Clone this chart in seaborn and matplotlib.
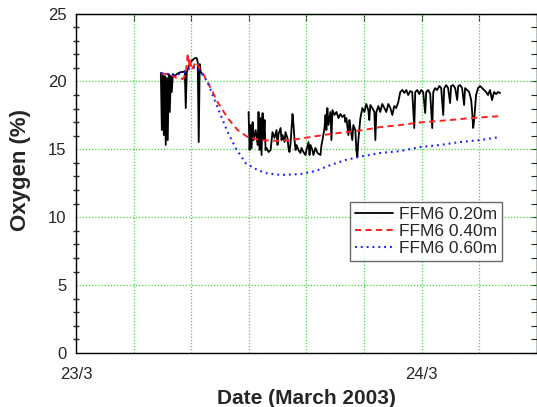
import matplotlib
matplotlib.use('Agg')
import matplotlib.pyplot as plt
import pandas as pd
import seaborn as sns

# time in hours since 23/3 00:00, oxygen in %
black_hours_a = [5.89, 5.96, 6.03, 6.10, 6.16, 6.23, 6.30, 6.37, 6.44, 6.51, 6.58, 6.65, 6.72,
                 6.86, 7.00, 7.13, 7.27, 7.41, 7.55, 7.62, 7.69, 7.83, 7.96, 8.10, 8.24, 8.38,
                 8.45, 8.52, 8.59, 8.66, 8.73]
black_oxy_a = [20.62, 16.42, 20.47, 16.05, 20.40, 15.32, 20.25, 15.68, 20.54, 17.75, 20.40, 19.22, 20.54,
               20.40, 20.54, 20.62, 20.69, 20.69, 20.76, 18.04, 20.69, 21.13, 21.43, 21.58, 21.72, 21.72,
               21.43, 15.54, 21.28, 20.69, 20.62]

black_hours_b = [11.98, 12.05, 12.12, 12.19, 12.26, 12.33, 12.47, 12.61, 12.67, 12.74, 12.81, 12.88,
                 12.95, 13.02, 13.09, 13.16, 13.23, 13.37, 13.51, 13.58, 13.64, 13.78, 13.92, 13.99,
                 14.06, 14.20, 14.27, 14.34, 14.48, 14.54, 14.68, 14.75, 14.82, 14.89, 15.03, 15.10,
                 15.17, 15.24, 15.31, 15.44, 15.58, 15.65, 15.79, 15.93, 16.00, 16.14, 16.21, 16.28,
                 16.41, 16.48, 16.62, 16.76, 16.97, 17.04, 17.11, 17.25, 17.32, 17.38, 17.45, 17.52,
                 17.66, 17.73, 17.80, 17.94, 18.08, 18.22, 18.35, 18.49, 18.63, 18.70, 18.77, 18.91,
                 18.98, 19.05, 19.18, 19.25, 19.39, 19.46, 19.53, 19.60, 19.74, 19.88, 20.02, 20.15,
                 20.29, 20.36, 20.43, 20.57, 20.71, 20.78, 20.85, 20.99, 21.12, 21.26, 21.40, 21.54,
                 21.68, 21.82, 21.96, 22.09, 22.23, 22.37, 22.51, 22.65, 22.79, 22.93, 23.06, 23.20,
                 23.34, 23.48, 23.55, 23.69, 23.83, 23.96, 24.10, 24.24, 24.31, 24.45, 24.59, 24.73,
                 24.80, 24.93, 25.07, 25.21, 25.35, 25.49, 25.56, 25.70, 25.83, 25.97, 26.04, 26.18,
                 26.32, 26.46, 26.53, 26.67, 26.80, 26.94, 27.01, 27.15, 27.29, 27.43, 27.50, 27.57,
                 27.64, 27.77, 27.91, 28.05, 28.19, 28.33, 28.47, 28.60, 28.74, 28.88, 29.02, 29.16,
                 29.30, 29.44]
black_oxy_b = [17.75, 14.95, 16.79, 15.10, 17.01, 15.68, 16.42, 15.32, 17.75, 14.95, 17.30, 14.58,
               17.67, 15.68, 17.16, 14.95, 15.10, 14.80, 14.95, 15.68, 16.27, 15.83, 16.42, 15.32,
               16.13, 16.57, 15.68, 16.05, 15.54, 16.27, 15.83, 15.10, 14.80, 15.39, 17.60, 16.79,
               15.68, 14.95, 15.32, 14.95, 14.73, 15.10, 14.80, 14.58, 14.95, 15.54, 14.58, 15.32,
               14.95, 14.58, 15.10, 14.73, 14.58, 15.32, 15.68, 16.57, 17.53, 16.42, 18.04, 16.79,
               17.75, 15.68, 17.89, 17.53, 17.75, 17.30, 17.60, 17.38, 17.53, 17.01, 17.30, 16.05,
               17.16, 16.57, 15.68, 16.79, 16.42, 14.95, 14.43, 15.68, 17.30, 18.04, 17.75, 18.34,
               17.89, 17.16, 18.26, 18.04, 17.75, 15.68, 17.75, 18.19, 17.75, 18.34, 18.04, 17.75,
               18.34, 18.04, 17.53, 18.19, 18.04, 18.48, 19.22, 19.37, 19.15, 19.37, 19.00, 19.29,
               19.22, 16.57, 19.22, 19.37, 19.07, 19.37, 19.22, 17.67, 19.22, 19.37, 19.07, 16.57,
               19.22, 19.51, 19.37, 19.66, 19.51, 17.53, 19.51, 19.73, 19.51, 18.41, 19.66, 19.73,
               19.51, 18.63, 19.66, 19.73, 19.51, 18.26, 19.51, 19.37, 19.22, 18.63, 17.75, 16.57,
               17.16, 19.00, 19.51, 19.66, 19.51, 19.37, 19.22, 19.00, 19.37, 18.63, 19.22, 19.07,
               19.22, 19.15]

red_hours = [5.89, 6.58, 7.00, 7.41, 7.62, 7.76, 7.83, 7.90, 8.03, 8.31, 8.66, 8.87, 9.35, 9.83,
             10.53, 11.22, 11.91, 12.81, 14.20, 15.38, 17.66, 19.95, 21.12, 22.51, 23.90, 25.97,
             27.43, 29.44]
red_oxy = [20.62, 20.47, 20.25, 20.18, 20.54, 22.09, 21.13, 21.72, 20.84, 21.43, 20.84, 20.47, 19.51,
           18.48, 17.30, 16.42, 15.91, 15.68, 15.61, 15.76, 16.13, 16.42, 16.64, 16.79, 16.98, 17.16,
           17.30, 17.45]

blue_hours = [5.89, 6.93, 7.62, 7.96, 8.45, 8.80, 9.14, 9.56, 10.04, 10.53, 11.08, 11.77, 12.47,
              13.16, 14.20, 15.58, 16.62, 17.66, 18.70, 19.95, 21.12, 22.51, 23.90, 25.28, 26.67,
              28.05, 29.44]
blue_oxy = [20.62, 20.47, 20.69, 21.06, 20.99, 20.47, 19.96, 18.78, 17.53, 16.27, 15.10, 13.99, 13.55,
            13.25, 13.11, 13.18, 13.40, 13.84, 14.21, 14.51, 14.73, 14.87, 15.17, 15.32, 15.54,
            15.68, 15.91]

x_ticks = [0, 4, 8, 12, 16, 20, 24, 28, 32]
x_ticklabels = ['23/3', '', '', '', '', '', '24/3', '', '']
y_ticks = [0, 5, 10, 15, 20, 25]


def main():
    sns.set_style('white')
    plt.rcParams['font.family'] = ['Liberation Sans', 'DejaVu Sans']

    fig = plt.figure(figsize=(5.37, 4.07), dpi=100)
    ax = fig.add_axes([0.1415, 0.1327, 0.8585, 0.834])

    seg_a = pd.DataFrame({'hours': black_hours_a, 'oxygen': black_oxy_a})
    seg_b = pd.DataFrame({'hours': black_hours_b, 'oxygen': black_oxy_b})
    red = pd.DataFrame({'hours': red_hours, 'oxygen': red_oxy})
    blue = pd.DataFrame({'hours': blue_hours, 'oxygen': blue_oxy})

    sns.lineplot(data=seg_a, x='hours', y='oxygen', color='black', lw=1.3,
                 estimator=None, sort=False, ax=ax, label='FFM6 0.20m')
    sns.lineplot(data=seg_b, x='hours', y='oxygen', color='black', lw=1.3,
                 estimator=None, sort=False, ax=ax, label='_nolegend_')
    sns.lineplot(data=red, x='hours', y='oxygen', color='#ff2020', lw=1.4,
                 estimator=None, sort=False, ax=ax, label='FFM6 0.40m',
                 linestyle=(0, (3.2, 2.2)))
    sns.lineplot(data=blue, x='hours', y='oxygen', color='#2020ff', lw=1.5,
                 estimator=None, sort=False, ax=ax, label='FFM6 0.60m',
                 linestyle=(0, (0.9, 1.9)))

    ax.set_xlim(0, 32)
    ax.set_ylim(0, 25)
    ax.set_xticks(x_ticks)
    ax.set_xticklabels(x_ticklabels)
    ax.set_yticks(y_ticks)
    ax.set_yticks(range(0, 26), minor=True)
    ax.xaxis.grid(True, which='major', color='#3fd83f', linestyle=(0, (1, 1.5)), lw=0.9)
    ax.yaxis.grid(True, which='major', color='#3fd83f', linestyle=(0, (1, 1.5)), lw=0.9)
    ax.yaxis.grid(False, which='minor')
    ax.tick_params(axis='both', which='major', direction='out', length=5, width=1,
                   labelsize=12, color='black', pad=2)
    ax.tick_params(axis='x', which='major', pad=5)
    ax.tick_params(axis='y', which='minor', direction='inout', length=5, width=1, left=True)
    for s in ax.spines.values():
        s.set_color('black')
        s.set_linewidth(1)

    top = ax.secondary_xaxis('top')
    top.set_xticks(x_ticks)
    top.tick_params(direction='in', length=5, labeltop=False)
    right = ax.secondary_yaxis('right')
    right.set_yticks(range(0, 26))
    right.tick_params(direction='in', length=4, labelright=False)

    ax.set_xlabel('Date (March 2003)', fontsize=15, fontweight='bold', labelpad=5)
    ax.set_ylabel('Oxygen (%)', fontsize=16, fontweight='bold')
    ax.yaxis.set_label_coords(-0.098, 0.54)

    leg = ax.legend(loc='upper right', bbox_to_anchor=(0.924, 0.445), borderaxespad=0,
                    fontsize=12.5, frameon=True, fancybox=False, handlelength=2.2,
                    handletextpad=0.3, labelspacing=0.1, borderpad=0.3)
    leg.get_frame().set_edgecolor('#444444')
    leg.get_frame().set_linewidth(1)

    fig.savefig('out.png', dpi=100)


if __name__ == '__main__':
    main()
